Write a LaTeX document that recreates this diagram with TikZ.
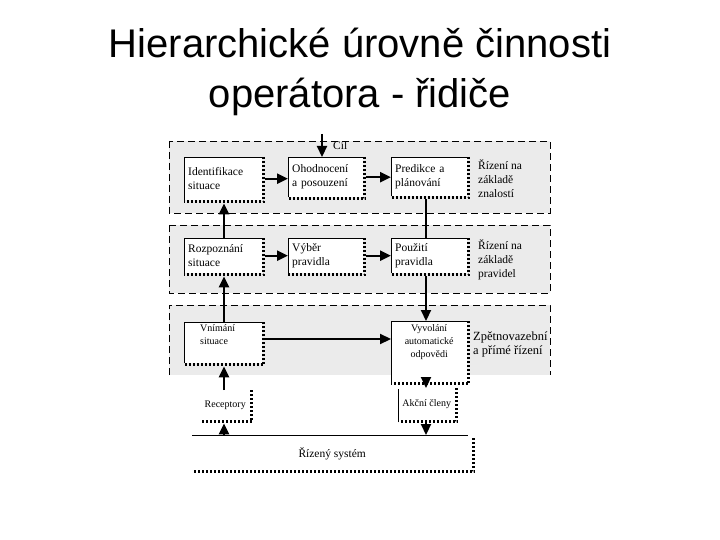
\documentclass[tikz,border=0pt]{standalone}
\usepackage{fontspec}
\setmainfont{Liberation Serif}
\newfontfamily\titlefont{Liberation Sans}
\usetikzlibrary{arrows.meta}
\newcommand\boxedges[1]{%
  \draw[thinb] (#1.south west) -- (#1.north west) -- (#1.north east);
  \draw[shad] ([xshift=1.5pt]#1.north east) -- ([xshift=1.5pt,yshift=-1.5pt]#1.south east) -- ([yshift=-1.5pt]#1.south west);}
\begin{document}
\begin{tikzpicture}[x=1pt,y=-1pt,
  band/.style={fill=black!8},
  bandline/.style={draw, dash pattern=on 7pt off 4pt, line width=0.9pt},
  box/.style={rectangle, fill=white, anchor=north west, inner ysep=0pt, inner xsep=4pt, align=left, font=\fontsize{11.5}{14}\selectfont},
  sbox/.style={box, font=\fontsize{10}{13}\selectfont},
  lbl/.style={anchor=north west, inner sep=0pt, align=left, font=\fontsize{11.5}{14}\selectfont},
  thinb/.style={line width=0.7pt},
  shad/.style={line width=3pt, dash pattern=on 2pt off 2pt},
  arr/.style={line width=2.2pt, -{Triangle[width=10pt,length=11pt]}},
  ln/.style={line width=2pt},
]
\useasboundingbox (0,0) rectangle (720,540);
% title
\node[font=\titlefont\fontsize{40}{50}\selectfont, align=center] (title) at (360,72) {Hierarchické úrovně činnosti\\operátora - řidiče};
% bands
\fill[band] (169,141) rectangle (550,213);
\draw[bandline] (169,141) rectangle (550,213);
\fill[band] (169,225) rectangle (550,293);
\draw[bandline] (169,225) rectangle (550,293);
\fill[band] (169,305) rectangle (550,375);
\draw[bandline] (169,375) -- (169,305) -- (550,305) -- (550,375);
% band 1 boxes
\node[box, minimum width=78, minimum height=43, text width=70] (ident) at (184,157) {Identifikace\\situace};
\node[box, minimum width=75, minimum height=40, text width=67] (chod) at (288,157) {Ohodnocení\\a posouzení};
\node[box, minimum width=76, minimum height=39, text width=68] (pred) at (391,157) {Predikce a\\plánování};
\node[lbl] (t1) at (478,159) {Řízení na\\základě\\znalostí};
% band 2 boxes
\node[box, minimum width=78, minimum height=35, text width=70] (rozp) at (184,238) {Rozpoznání\\situace};
\node[box, minimum width=75, minimum height=35, text width=67] (vyber) at (288,238) {Výběr\\pravidla};
\node[box, minimum width=76, minimum height=35, text width=68] (pouz) at (391,238) {Použití\\pravidla};
\node[lbl] (t2) at (478,239) {Řízení na\\základě\\pravidel};
% band 3 boxes
\node[sbox, minimum width=78, minimum height=41, text width=46, inner xsep=16pt, text depth=29pt] (vnim) at (184,322) {Vnímání\\situace};
\node[sbox, minimum width=76, minimum height=61, text width=68, align=center, text depth=47pt] (vyvol) at (391,321) {Vyvolání\\automatické\\odpovědi};
\node[lbl, font=\fontsize{12.5}{14}\selectfont] (t3) at (473,332) {Zpětnovazební\\a přímé řízení};
% bottom
\node[sbox, minimum width=50, minimum height=30, inner xsep=3pt, fill=none] (recep) at (200,390) {Receptory};
\node[sbox, minimum width=57, minimum height=32, inner xsep=3pt, fill=none] (akcni) at (398,388) {Akční členy};
\node[box, minimum width=280, minimum height=35, align=center, fill=none, text depth=0pt] (rizeny) at (192,435) {Řízený systém};
% edges of boxes
\boxedges{ident}
\boxedges{chod}
\boxedges{pred}
\boxedges{rozp}
\boxedges{vyber}
\boxedges{pouz}
\boxedges{vnim}
\boxedges{vyvol}
\draw[shad] ([xshift=1.5pt]recep.north east) -- ([xshift=1.5pt,yshift=-1.5pt]recep.south east) -- ([yshift=-1.5pt]recep.south west);
\draw[thinb] ([yshift=-2pt]akcni.south west) -- ([yshift=-1pt]akcni.north west);
\draw[shad] ([xshift=1.5pt]akcni.north east) -- ([xshift=1.5pt,yshift=-1.5pt]akcni.south east) -- ([xshift=3pt,yshift=-1.5pt]akcni.south west);
\draw[thinb] (rizeny.north west) -- ([xshift=-4pt]rizeny.north east);
\draw[shad] ([xshift=1.5pt,yshift=-3pt]rizeny.north east) -- ([xshift=1.5pt,yshift=-1.5pt]rizeny.south east) -- ([yshift=-1.5pt]rizeny.south west);
% connectors
\coordinate (lx) at (224,0);
\coordinate (rx) at (426,0);
\coordinate (goal) at (322,134);
\coordinate (hy) at (0,339);
\node[lbl, font=\fontsize{11.5}{14}\selectfont] (cil) at (333,141) {Cíl};
\draw[arr] (goal) -- (chod.north -| goal);
\draw[arr] ([xshift=3pt]ident.east) -- (ident.east -| chod.west);
\draw[arr] ([xshift=3pt]chod.east) -- (chod.east -| pred.west);
\draw[arr] ([xshift=3pt]rozp.east) -- (rozp.east -| vyber.west);
\draw[arr] ([xshift=3pt]vyber.east) -- (vyber.east -| pouz.west);
\draw[arr] ([xshift=3pt]vnim.east |- hy) -- (vyvol.west |- hy);
\draw[arr] (rozp.north -| lx) -- ([yshift=-3pt]ident.south -| lx);
\draw[arr] (vnim.north -| lx) -- ([yshift=-3pt]rozp.south -| lx);
\draw[arr] (recep.north -| lx) -- ([yshift=-3pt]vnim.south -| lx);
\draw[arr] (rizeny.north -| lx) -- ([yshift=-3pt]recep.south -| lx);
\draw[ln] ([yshift=-3pt]pred.south -| rx) -- (pouz.north -| rx);
\draw[arr] ([yshift=-3pt]pouz.south -| rx) -- (vyvol.north -| rx);
\draw[arr] ([yshift=-3pt]vyvol.south -| rx) -- (akcni.north -| rx);
\draw[arr] ([yshift=-3pt]akcni.south -| rx) -- (rizeny.north -| rx);
\end{tikzpicture}
\end{document}
